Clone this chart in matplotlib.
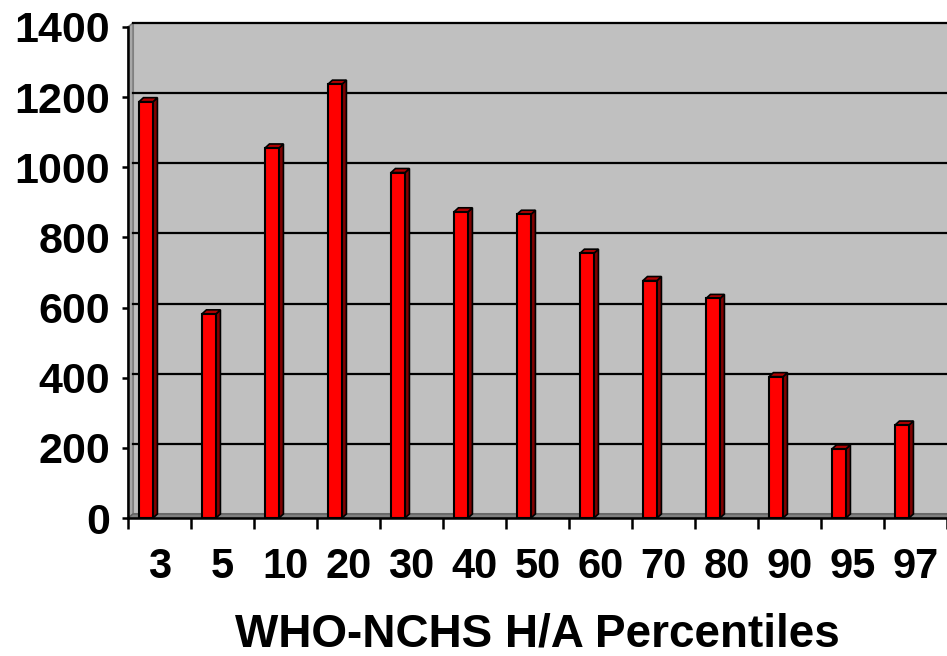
import matplotlib.pyplot as plt
from matplotlib.patches import Polygon, Rectangle

# Percentile categories and counts
percentiles = ['3', '5', '10', '20', '30', '40', '50', '60', '70', '80', '90', '95', '97']
counts = [1187, 582, 1055, 1237, 985, 873, 866, 755, 677, 626, 403, 197, 265]
yticks = [0, 200, 400, 600, 800, 1000, 1200, 1400]

plt.rcParams['font.family'] = ['Liberation Sans', 'DejaVu Sans']
plt.rcParams['font.weight'] = 'bold'

fig = plt.figure(figsize=(9.47, 6.56), dpi=100)
ax = fig.add_axes([128 / 947, 138 / 656, 819 / 947, 491 / 656])

n = len(percentiles)
ax.set_xlim(0, n)
ax.set_ylim(0, 1400)

# 3D depth offsets (data units)
wx, wy = 0.08, 11.5      # wall depth
bx, by = 0.07, 11.5      # bar depth
bar_l, bar_w = 0.175, 0.222

# back wall, side wall and floor
ax.add_patch(Rectangle((wx, wy), n, 1400, facecolor='#c0c0c0', edgecolor='#808080',
                       lw=1.5, zorder=0, clip_on=False))
ax.add_patch(Polygon([(0, 0), (wx, wy), (wx, 1400 + wy), (0, 1400)], closed=True,
                     facecolor='#a8a8a8', edgecolor='#808080', lw=1.2, zorder=0.5, clip_on=False))
ax.add_patch(Polygon([(0, 0), (n, 0), (n + wx, wy), (wx, wy)], closed=True,
                     facecolor='#808080', edgecolor='#606060', lw=1, zorder=0.5, clip_on=False))

# gridlines on the back wall
for t in yticks[1:]:
    ax.plot([wx, n + wx], [t + wy, t + wy], color='black', lw=1.6, zorder=1, clip_on=False)

# columns: front faces
xs = [i + bar_l for i in range(n)]
ax.bar(xs, counts, width=bar_w, align='edge', color='#ff0000', edgecolor='black',
       linewidth=1.5, zorder=3)

# columns: side and top faces
for x, v in zip(xs, counts):
    r = x + bar_w
    ax.add_patch(Polygon([(r, 0), (r + bx, by), (r + bx, v + by), (r, v)], closed=True,
                         facecolor='#800000', edgecolor='black', lw=1.2, zorder=2.5))
    ax.add_patch(Polygon([(x, v), (x + bx, v + by), (r + bx, v + by), (r, v)], closed=True,
                         facecolor='#b00000', edgecolor='black', lw=1.2, zorder=2.5))

ax.set_facecolor('none')
for s in ['top', 'right']:
    ax.spines[s].set_visible(False)
for s in ['left', 'bottom']:
    ax.spines[s].set_linewidth(1.8)
    ax.spines[s].set_zorder(4)

ax.set_yticks(yticks)
ax.set_yticklabels([str(t) for t in yticks], fontsize=31, fontweight='bold')
ax.tick_params(axis='y', direction='out', length=4, width=1.8, pad=9)

ax.set_xticks(range(n + 1))
ax.set_xticklabels([])
ax.set_xticks([i + 0.5 for i in range(n)], minor=True)
ax.set_xticklabels(percentiles, minor=True, fontsize=30, fontweight='bold')
ax.tick_params(axis='x', which='major', direction='out', length=8, width=1.8)
ax.tick_params(axis='x', which='minor', length=0, pad=21)

ax.set_xlabel('WHO-NCHS H/A Percentiles', fontsize=33, fontweight='bold', labelpad=18)

fig.savefig('out.png', dpi=100)
